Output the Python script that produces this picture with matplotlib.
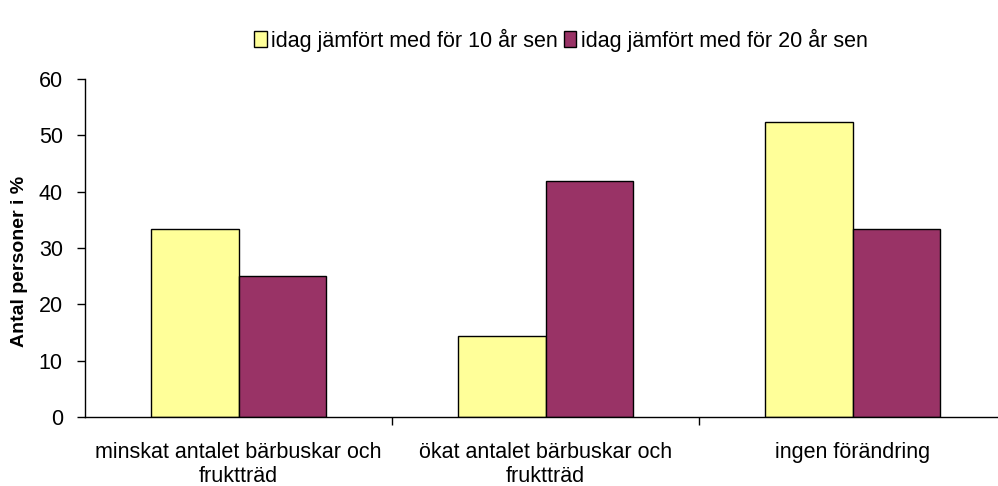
import matplotlib
matplotlib.use("Agg")
import matplotlib.pyplot as plt
import numpy as np

categories = ["minskat antalet bärbuskar och\nfruktträd", "ökat antalet bärbuskar och\nfruktträd", "ingen förändring"]
series_names = ["idag jämfört med för 10 år sen", "idag jämfört med för 20 år sen"]
values_10 = [33.3, 14.3, 52.4]
values_20 = [25.0, 41.9, 33.3]
yticks = [0, 10, 20, 30, 40, 50, 60]
ylabel = "Antal personer i %"

plt.rcParams['font.family'] = ['Liberation Sans', 'DejaVu Sans']

fig = plt.figure(figsize=(9.98, 4.86), dpi=100)
W, H = 998, 486
left_px, right_px, top_px, bot_px = 85, 1006, 79, 417
ax = fig.add_axes([left_px / W, 1 - bot_px / H, (right_px - left_px) / W, (bot_px - top_px) / H])

x = np.arange(len(categories))
bw = 1 / 3.5
ax.bar(x - bw / 2, values_10, bw, color="#FFFF99", edgecolor="black", linewidth=1.0, label=series_names[0])
ax.bar(x + bw / 2, values_20, bw, color="#993366", edgecolor="black", linewidth=1.0, label=series_names[1])

ax.set_xlim(-0.5, 2.5)
ax.set_ylim(0, 60)
ax.set_yticks(yticks)
ax.set_yticklabels([str(t) for t in yticks], fontsize=15.5)
ax.set_xticks(x)
ax.set_xticklabels(categories, fontsize=15.5, linespacing=1.2)
ax.set_xticks([0.5, 1.5], minor=True)
ax.tick_params(axis='x', which='major', length=0, pad=18)
ax.tick_params(axis='x', which='minor', length=6, width=1, direction='out')
ax.tick_params(axis='y', length=6, width=1, direction='out', pad=10)
for s in ['top', 'right']:
    ax.spines[s].set_visible(False)
for s in ['left', 'bottom']:
    ax.spines[s].set_linewidth(1.0)
    ax.spines[s].set_color('black')
ax.set_ylabel(ylabel, fontsize=14, fontweight='bold')
ax.yaxis.set_label_coords(-(85 - 28) / (right_px - left_px), (bot_px - 261) / (bot_px - top_px))

fig.legend(loc='center', bbox_to_anchor=(0.562, 1 - 40 / H), ncol=2, frameon=False,
           fontsize=15.5, handlelength=0.6, handleheight=0.8, handletextpad=0.2,
           columnspacing=0.25, borderaxespad=0)

fig.savefig("out.png", dpi=100)
